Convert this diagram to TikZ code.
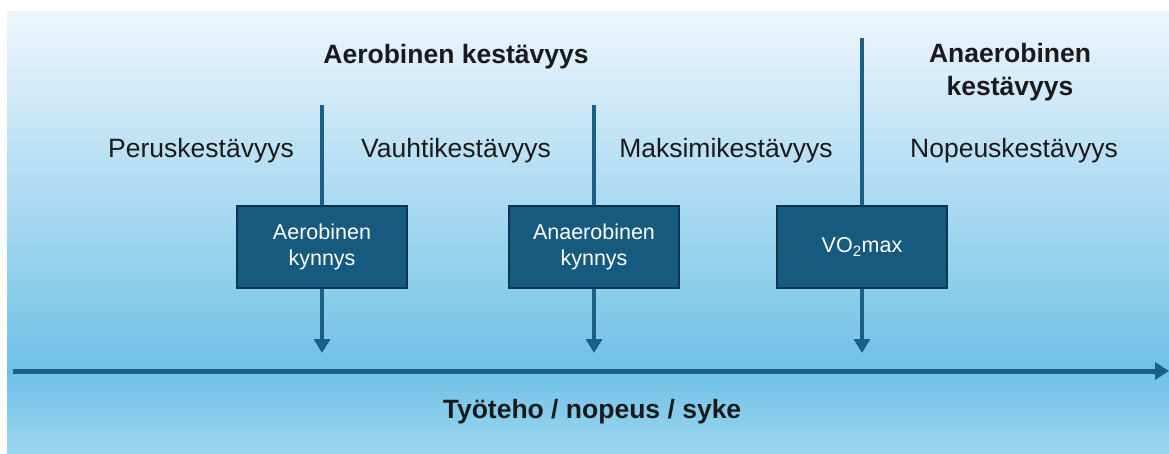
\documentclass[tikz,border=0pt]{standalone}
\usepackage{fontspec}
\setmainfont{Liberation Sans}
\usetikzlibrary{arrows.meta,positioning}

\definecolor{bgtop}{HTML}{EEF6FC}
\definecolor{bgmid}{HTML}{6FC1E7}
\definecolor{bgbot}{HTML}{9DD5F0}
\definecolor{boxblue}{HTML}{175A80}
\definecolor{boxedge}{HTML}{0C3752}
\definecolor{linkblue}{HTML}{1A5F86}
\definecolor{labeltext}{HTML}{1A1A1A}

\tikzset{
  every picture/.style={line width=0.75pt},
  threshold/.style={draw=boxedge, line width=2pt, fill=boxblue, text=white,
    minimum width=170pt, minimum height=82pt, align=center,
    font=\fontsize{21.5}{26}\selectfont},
  zonelabel/.style={anchor=base, inner sep=0pt, text=labeltext,
    font=\fontsize{26.5}{33}\selectfont},
  headlabel/.style={anchor=base, inner sep=0pt, text=labeltext, align=center,
    font=\bfseries\fontsize{26.5}{33}\selectfont},
  drop/.style={draw=linkblue, line width=4.5pt, -{Triangle[width=16pt,length=14pt]}},
  riser/.style={draw=linkblue, line width=4.5pt},
}

\begin{document}
\begin{tikzpicture}[x=1pt,y=1pt,yscale=-1,xscale=1]
\useasboundingbox (0,0) rectangle (1169,453);

%Background
\path[top color=bgtop, bottom color=bgmid] (7,11) rectangle (1169,371);
\path[top color=bgmid, bottom color=bgbot] (7,371) rectangle (1169,453);

%Threshold boxes
\node[threshold] (aer) at (322,247) {Aerobinen\\kynnys};
\node[threshold] (ana) at (594,247) {Anaerobinen\\kynnys};
\node[threshold] (vo2) at (862,247) {VO\textsubscript{2}max};

%Line ends
\coordinate (aertop) at (322,105);
\coordinate (anatop) at (594,105);
\coordinate (vo2top) at (862,38);
\coordinate (aerend) at (322,353);
\coordinate (anaend) at (594,353);
\coordinate (vo2end) at (862,353);

%Vertical lines
\draw[riser] (aertop) -- (aer.north);
\draw[riser] (anatop) -- (ana.north);
\draw[riser] (vo2top) -- (vo2.north);
\draw[drop] (aer.south) -- (aerend);
\draw[drop] (ana.south) -- (anaend);
\draw[drop] (vo2.south) -- (vo2end);

%Axis
\coordinate (axstart) at (13,371);
\coordinate (axend) at (1169,371);
\draw[draw=linkblue, line width=5pt, -{Triangle[width=17pt,length=14pt]}] (axstart) -- (axend);

% Text Node
\node[headlabel] (aerhead) at (456,63) {Aerobinen kestävyys};
\node[headlabel] (anahead) at (1010,95) {Anaerobinen\\kestävyys};
\node[zonelabel] (perus) at (201,157) {Peruskestävyys};
\node[zonelabel] (vauhti) at (456,157) {Vauhtikestävyys};
\node[zonelabel] (maksimi) at (726,157) {Maksimikestävyys};
\node[zonelabel] (nopeus) at (1014,157) {Nopeuskestävyys};
\node[headlabel] (axlabel) at (592,418) {Työteho / nopeus / syke};

\end{tikzpicture}
\end{document}
